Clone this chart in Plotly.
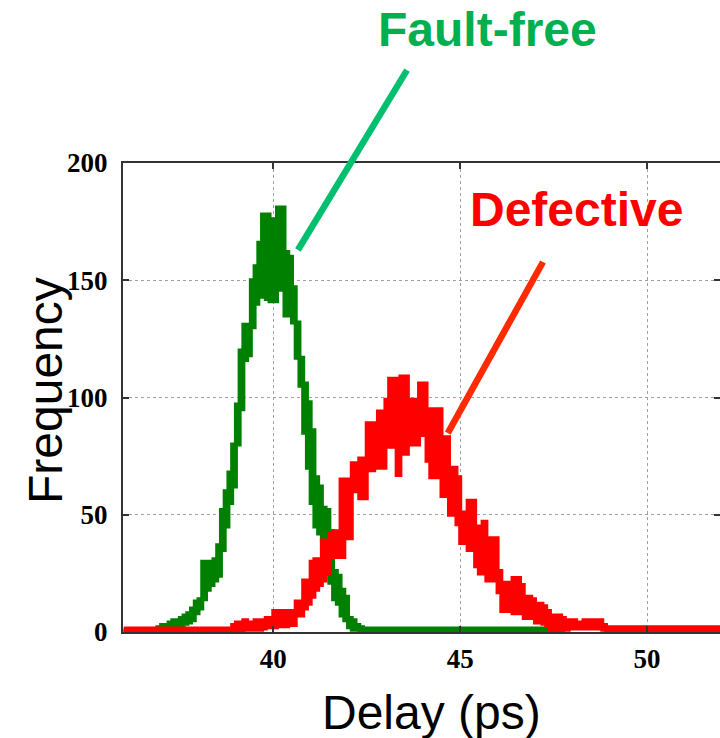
import plotly.graph_objects as go

# ---- data ----
# Fault-free histogram envelope (bin start in ps, upper / lower envelope of the noisy counts)
GREEN_DELAY = [36.0, 36.9, 37.0, 37.1, 37.2, 37.3, 37.4, 37.5, 37.6, 37.7, 37.8, 37.9,
               38.0, 38.1, 38.2, 38.3, 38.4, 38.5, 38.6, 38.7, 38.8, 38.9,
               39.0, 39.1, 39.2, 39.3, 39.4, 39.5, 39.6, 39.7, 39.8, 39.9,
               40.0, 40.1, 40.2, 40.3, 40.4, 40.5, 40.6, 40.7, 40.8, 40.9,
               41.0, 41.1, 41.2, 41.3, 41.4, 41.5, 41.6, 41.7, 41.8, 41.9,
               42.0, 42.1, 42.2, 42.3, 42.4, 47.8]
GREEN_HIGH = [1.0, 2, 3, 3, 4, 5, 5, 6, 7, 8, 10, 13,
              14, 30, 30, 27, 31, 37, 52, 60, 68, 80,
              97, 120, 131, 131, 150, 156, 166, 178, 178, 176,
              170, 181, 181, 162, 160, 147, 132, 117, 106, 98,
              86, 66, 62, 53, 52, 43, 26, 24, 18, 15,
              6, 5, 3, 2, 1.5, 1.5]
GREEN_LOW = [0.0, 0.5, 0.5, 1, 1.5, 2, 2.5, 3, 3.5, 4, 5, 8,
             10, 14, 18, 20, 22, 24, 35, 45, 55, 62,
             80, 95, 116, 118, 130, 140, 144, 143, 142, 141,
             141, 146, 146, 135, 135, 132, 117, 105, 85, 70,
             55, 45, 42, 39, 39, 21, 14, 12, 7, 5,
             2, 1, 1, 0.5, 0, 0]

# Defective histogram envelope
RED_DELAY = [36.0, 38.9, 39.0, 39.1, 39.2, 39.3, 39.4, 39.5, 39.6, 39.7, 39.8, 39.9,
             40.0, 40.1, 40.2, 40.3, 40.4, 40.5, 40.6, 40.7, 40.8, 40.9,
             41.0, 41.1, 41.2, 41.3, 41.4, 41.5, 41.6, 41.7, 41.8, 41.9,
             42.0, 42.1, 42.2, 42.3, 42.4, 42.5, 42.6, 42.7, 42.8, 42.9,
             43.0, 43.1, 43.2, 43.3, 43.4, 43.5, 43.6, 43.7, 43.8, 43.9,
             44.0, 44.1, 44.2, 44.3, 44.4, 44.5, 44.6, 44.7, 44.8, 44.9,
             45.0, 45.1, 45.2, 45.3, 45.4, 45.5, 45.6, 45.7, 45.8, 45.9,
             46.0, 46.1, 46.2, 46.3, 46.4, 46.5, 46.6, 46.7, 46.8, 46.9,
             47.0, 47.1, 47.2, 47.3, 47.4, 47.5, 47.6, 47.7, 47.8, 47.9,
             48.0, 48.1, 48.2, 48.3, 48.4, 48.5, 48.6, 48.7, 48.8, 48.9, 52.0]
RED_HIGH = [1.5, 3, 4, 3, 5, 3, 4, 5, 4, 5, 6, 5,
            9, 8, 9, 8, 9, 8, 13, 12, 22, 22,
            30, 31, 30, 39, 39, 42, 43, 42, 65, 65,
            64, 72, 72, 74, 74, 89, 89, 89, 94, 94,
            99, 108, 108, 103, 109, 109, 90, 99, 99, 106,
            106, 95, 95, 95, 95, 83, 83, 70, 70, 66,
            51, 51, 56, 56, 45, 42, 47, 38, 40, 40,
            26, 21, 21, 21, 23, 23, 20, 15, 15, 14,
            12, 12, 11, 9, 7, 7, 7, 6, 5, 5,
            5, 4, 4, 5, 4, 5, 4, 5, 3, 2, 2]
RED_LOW = [0.0, 0.5, 0.5, 0.5, 1, 1, 1, 1, 1, 1.5, 2, 2,
           2, 2.5, 3, 2.5, 3, 3, 7, 7, 10, 12,
           15, 18, 20, 22, 25, 32, 32, 32, 32, 40,
           40, 60, 60, 57, 57, 69, 69, 70, 70, 70,
           79, 79, 79, 67, 76, 76, 80, 80, 80, 84,
           84, 73, 66, 66, 66, 58, 58, 50, 50, 46,
           38, 38, 35, 35, 28, 25, 28, 22, 22, 22,
           17, 9, 9, 9, 8, 8, 8, 6, 6, 6,
           4, 4, 3.5, 3, 1, 1, 1, 1, 1, 1.5,
           1.5, 1.5, 1.5, 1.5, 1.5, 1.5, 1.5, 1.5, 1, 0, 0]

X_TICKS = [40, 45, 50]
Y_TICKS = [0, 50, 100, 150, 200]
X_RANGE = [35.98, 51.95]
Y_RANGE = [0, 200]

GREEN = "#008000"
RED = "#FF0000"
EDGE = 4

fig = go.Figure()


def band(xs, lo, hi, color, name):
    fig.add_trace(go.Scatter(x=xs, y=lo, mode="lines", line=dict(color=color, width=EDGE, shape="hv"),
                             showlegend=False, hoverinfo="skip", name=name + " low"))
    fig.add_trace(go.Scatter(x=xs, y=hi, mode="lines", line=dict(color=color, width=EDGE, shape="hv"),
                             fill="tonexty", fillcolor=color, showlegend=False, name=name))


band(GREEN_DELAY, GREEN_LOW, GREEN_HIGH, GREEN, "Fault-free")
band(RED_DELAY, RED_LOW, RED_HIGH, RED, "Defective")

# invisible trace to carry the right-hand tick axis
fig.add_trace(go.Scatter(x=[X_RANGE[0]], y=[0], yaxis="y2", mode="markers",
                         marker=dict(opacity=0), showlegend=False, hoverinfo="skip"))

tick_font = dict(family="Liberation Serif", size=27, color="black", weight="bold")

fig.update_xaxes(range=X_RANGE, tickvals=X_TICKS, ticklabelstandoff=2,
                 showline=True, linecolor="#333333", linewidth=2, mirror="ticks",
                 ticks="inside", ticklen=6, tickwidth=1.5, tickcolor="#333333",
                 showgrid=True, gridcolor="#a0a0a0", griddash="dot", gridwidth=1,
                 zeroline=False, tickfont=tick_font)
fig.update_layout(
    yaxis=dict(range=Y_RANGE, tickvals=Y_TICKS, ticklabelstandoff=8,
               showline=True, linecolor="#333333", linewidth=2, mirror=False,
               ticks="inside", ticklen=6, tickwidth=1.5, tickcolor="#333333",
               showgrid=True, gridcolor="#a0a0a0", griddash="dot", gridwidth=1,
               zeroline=False, tickfont=tick_font),
    yaxis2=dict(range=Y_RANGE, tickvals=Y_TICKS, overlaying="y", side="right",
                showline=False, showgrid=False, zeroline=False, showticklabels=False,
                ticks="inside", ticklen=6, tickwidth=1.5, tickcolor="#333333"),
    width=720, height=738,
    margin=dict(l=123, r=0, t=163, b=106),
    plot_bgcolor="white", paper_bgcolor="white",
    showlegend=False,
)

# axis titles
fig.add_annotation(text="Frequency", xref="paper", yref="paper", x=-0.129, y=0.516,
                   xanchor="center", yanchor="middle", textangle=-90, showarrow=False,
                   font=dict(family="Liberation Sans", size=48, color="black"))
fig.add_annotation(text="Delay (ps)", xref="paper", yref="paper", x=0.516, y=-0.171,
                   xanchor="center", yanchor="middle", showarrow=False,
                   font=dict(family="Liberation Sans", size=48, color="black"))

# callouts
fig.add_annotation(text="<b>Fault-free</b>", xref="paper", yref="paper", x=0.610, y=1.284,
                   xanchor="center", yanchor="middle", showarrow=False,
                   font=dict(family="Liberation Sans", size=48, color="#00B050"))
fig.add_annotation(text="<b>Defective</b>", xref="paper", yref="paper", x=0.759, y=0.900,
                   xanchor="center", yanchor="middle", showarrow=False,
                   font=dict(family="Liberation Sans", size=48, color="#FF0000"))
fig.add_shape(type="line", xref="paper", yref="paper", x0=0.293, y0=0.8145, x1=0.4757, y1=1.198,
              line=dict(color="#00C070", width=6.5))
fig.add_shape(type="line", xref="paper", yref="paper", x0=0.544, y0=0.424, x1=0.7035, y1=0.789,
              line=dict(color="#FF2A00", width=6.5))

fig.write_html("out.html")
